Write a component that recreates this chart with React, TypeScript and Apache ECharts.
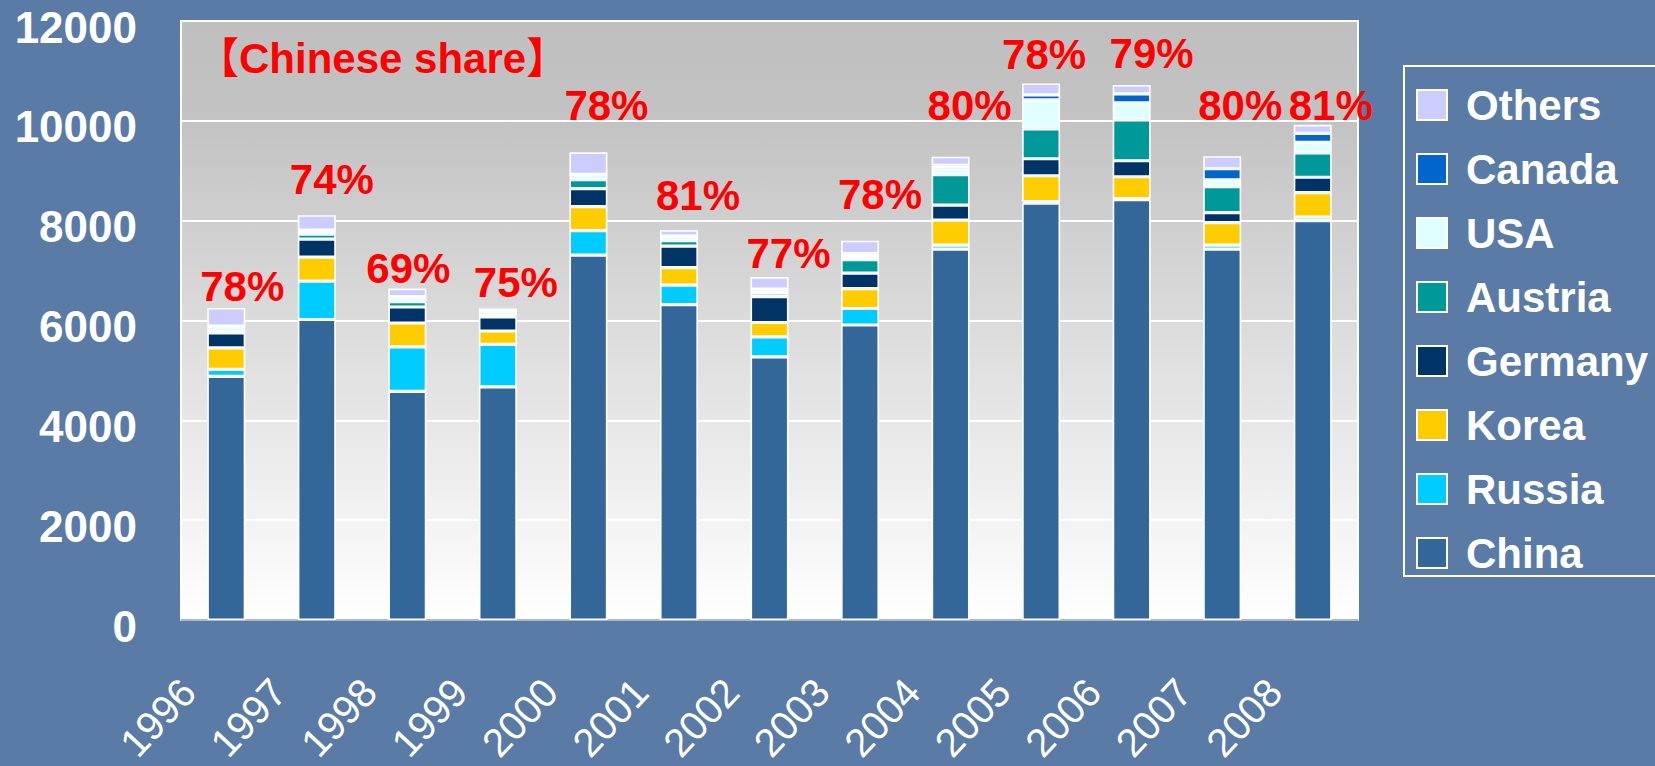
import React, { useEffect, useRef } from "react";
import * as echarts from "echarts";

const years = ["1996", "1997", "1998", "1999", "2000", "2001", "2002", "2003", "2004", "2005", "2006", "2007", "2008"];
const china = [4880, 6020, 4580, 4670, 7310, 6320, 5270, 5910, 7430, 8350, 8420, 7430, 8000];
const russia = [140, 770, 890, 850, 490, 390, 400, 330, 80, 30, 20, 80, 70];
const korea = [430, 480, 480, 270, 480, 350, 290, 400, 500, 520, 440, 450, 490];
const germany = [300, 360, 320, 280, 360, 430, 520, 310, 300, 340, 320, 200, 310];
const austria = [20, 100, 110, 20, 180, 110, 70, 270, 610, 600, 820, 520, 490];
const usa = [120, 80, 100, 90, 110, 90, 80, 70, 130, 580, 340, 140, 210];
const canada = [0, 0, 0, 0, 0, 0, 0, 50, 60, 100, 180, 220, 180];
const others = [360, 300, 160, 60, 440, 120, 240, 260, 170, 230, 180, 250, 170];
const shares = [78, 74, 69, 75, 78, 81, 77, 78, 80, 78, 79, 80, 81];
const yTicks = [0, 2000, 4000, 6000, 8000, 10000, 12000];
const legendOrder = ["Others", "Canada", "USA", "Austria", "Germany", "Korea", "Russia", "China"];
const titleText = "【Chinese share】";

// style: share label offsets (px) relative to stack top
const labelOffsets: number[][] = [
  [16, -22], [15, -36], [1, -20], [18, -26], [18, -47], [19, -35], [19, -24],
  [20, -46], [19, -51], [3, -29], [20, -31], [18, -51], [18, -19],
];

const FONT = "'Liberation Sans', Arial, 'Noto Sans CJK JP', sans-serif";

export default function App() {
  const ref = useRef<HTMLDivElement>(null);
  useEffect(() => {
    if (!ref.current) return;
    const chart = echarts.init(ref.current, null, { renderer: "svg" });
    const seriesDefs = [
      { name: "China", data: china, color: "#336699" },
      { name: "Russia", data: russia, color: "#00CCFF" },
      { name: "Korea", data: korea, color: "#FFCC00" },
      { name: "Germany", data: germany, color: "#003366" },
      { name: "Austria", data: austria, color: "#009999" },
      { name: "USA", data: usa, color: "#E0FFFF" },
      { name: "Canada", data: canada, color: "#0066CC" },
      { name: "Others", data: others, color: "#CCCCFF" },
    ];
    const series = seriesDefs.map((s) => {
      const base: any = {
        name: s.name,
        type: "bar",
        stack: "total",
        barWidth: 38,
        itemStyle: { color: s.color, borderColor: "#ffffff", borderWidth: 1.6 },
        data: s.data,
      };
      if (s.name === "Others") {
        base.data = s.data.map((v, i) => ({ value: v, label: { offset: labelOffsets[i] } }));
        base.label = {
          show: true,
          position: "top",
          distance: 0,
          verticalAlign: "middle",
          align: "center",
          formatter: (p: any) => shares[p.dataIndex] + "%",
          color: "#ff0000",
          fontSize: 42,
          fontWeight: "bold",
          fontFamily: FONT,
        };
      }
      return base;
    });
    chart.setOption({
      animation: false,
      backgroundColor: "#5a7ba5",
      grid: {
        left: 181,
        top: 21,
        width: 1177,
        height: 599,
        show: true,
        borderColor: "#ffffff",
        borderWidth: 2,
        backgroundColor: new echarts.graphic.LinearGradient(0, 0, 0, 1, [
          { offset: 0, color: "#bfbfbf" },
          { offset: 0.17, color: "#c3c3c3" },
          { offset: 1, color: "#ffffff" },
        ]),
      },
      legend: {
        data: legendOrder,
        orient: "vertical",
        left: 1416,
        top: 84,
        padding: 0,
        itemWidth: 30,
        itemHeight: 30,
        itemGap: 22,
        icon: "rect",
        textStyle: {
          color: "#ffffff",
          fontSize: 42,
          fontWeight: "bold",
          fontFamily: FONT,
          lineHeight: 40,
          padding: [0, 0, 0, 14],
        },
      },
      xAxis: {
        type: "category",
        data: years,
        axisTick: { show: false },
        axisLine: { lineStyle: { color: "#8da2bd", width: 1.5 } },
        axisLabel: {
          interval: 0,
          rotate: 47,
          margin: 24,
          padding: [0, 56, 0, 0],
          color: "#ffffff",
          fontSize: 40,
          fontFamily: FONT,
        },
      },
      yAxis: {
        type: "value",
        min: yTicks[0],
        max: yTicks[yTicks.length - 1],
        interval: yTicks[1] - yTicks[0],
        axisLine: { show: false },
        axisTick: { show: false },
        splitLine: { lineStyle: { color: "#ffffff", width: 2 } },
        axisLabel: {
          margin: 44,
          color: "#ffffff",
          fontSize: 44,
          fontWeight: "bold",
          fontFamily: FONT,
          verticalAlign: "top",
          lineHeight: 12,
          formatter: (v: number) => String(v),
        },
      },
      graphic: [
        {
          type: "rect",
          shape: { x: 1404, y: 66, width: 300, height: 510 },
          style: { fill: "none", stroke: "#ffffff", lineWidth: 2 },
        },
        {
          type: "text",
          x: 197,
          y: 58,
          style: {
            text: titleText,
            fill: "#ff0000",
            fontSize: 42,
            fontWeight: "bold",
            fontFamily: FONT,
            verticalAlign: "middle",
          },
        },
      ],
      series,
    });
    return () => chart.dispose();
  }, []);
  return (
    <div
      ref={ref}
      style={{ position: "fixed", left: 0, top: 0, width: 1655, height: 766 }}
    />
  );
}
